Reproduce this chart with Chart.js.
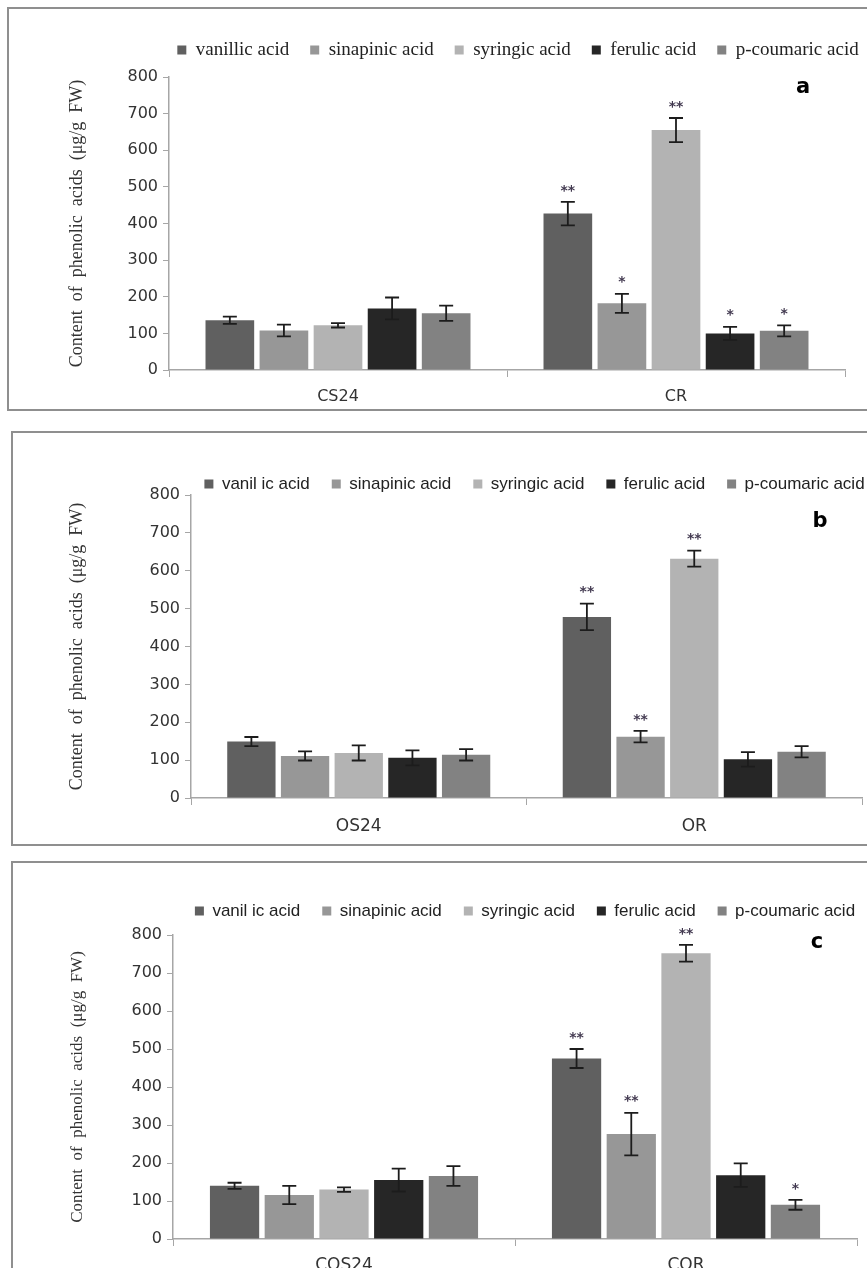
<!DOCTYPE html>
<html>
<head>
<meta charset="utf-8">
<script src="https://cdn.jsdelivr.net/npm/chart.js@4.4.0/dist/chart.umd.min.js"></script>
<style>
    html, body { margin: 0; padding: 0; background: #fff; overflow: hidden; width: 867px; height: 1268px; position: relative; }
    .frame { position: absolute; border: 2px solid #8f8f8f; box-sizing: border-box; }
    canvas { position: absolute; left: 0; }
</style>
</head>
<body>
<div class="frame" style="left:7px;top:7px;width:900px;height:404px"></div>
<div class="frame" style="left:11px;top:431px;width:900px;height:415px"></div>
<div class="frame" style="left:11px;top:861px;width:900px;height:440px"></div>
<canvas id="chartA" width="867" height="402" style="top:8px"></canvas>
<canvas id="chartB" width="867" height="413" style="top:432px"></canvas>
<canvas id="chartC" width="867" height="406" style="top:862px"></canvas>
<script>
// acids and their bar colours
const acidsA = ['vanillic acid', 'sinapinic acid', 'syringic acid', 'ferulic acid', 'p-coumaric acid'];
const acidsBC = ['vanil ic acid', 'sinapinic acid', 'syringic acid', 'ferulic acid', 'p-coumaric acid'];
const acidColors = ['#606060', '#979797', '#b3b3b3', '#262626', '#828282'];
const yTicks = [0, 100, 200, 300, 400, 500, 600, 700, 800];
const yTitle = 'Content  of  phenolic  acids  (\u03bcg/g  FW)';

// panel a
const groupsA = ['CS24', 'CR'];
const vanillicA = [136, 427], vanillicErrA = [10, 32], vanillicSigA = ['', '**'];
const sinapinicA = [108, 182], sinapinicErrA = [16, 26], sinapinicSigA = ['', '*'];
const syringicA = [122, 655], syringicErrA = [6, 33], syringicSigA = ['', '**'];
const ferulicA = [168, 100], ferulicErrA = [30, 18], ferulicSigA = ['', '*'];
const coumaricA = [155, 107], coumaricErrA = [21, 15], coumaricSigA = ['', '*'];

// panel b
const groupsB = ['OS24', 'OR'];
const vanillicB = [149, 478], vanillicErrB = [12, 35], vanillicSigB = ['', '**'];
const sinapinicB = [111, 162], sinapinicErrB = [12, 15], sinapinicSigB = ['', '**'];
const syringicB = [119, 632], syringicErrB = [20, 21], syringicSigB = ['', '**'];
const ferulicB = [106, 102], ferulicErrB = [20, 19], ferulicSigB = ['', ''];
const coumaricB = [114, 122], coumaricErrB = [15, 15], coumaricSigB = ['', ''];

// panel c
const groupsC = ['COS24', 'COR'];
const vanillicC = [140, 475], vanillicErrC = [8, 25], vanillicSigC = ['', '**'];
const sinapinicC = [116, 276], sinapinicErrC = [24, 56], sinapinicSigC = ['', '**'];
const syringicC = [130, 752], syringicErrC = [6, 22], syringicSigC = ['', '**'];
const ferulicC = [155, 168], ferulicErrC = [30, 31], ferulicSigC = ['', ''];
const coumaricC = [166, 90], coumaricErrC = [26, 13], coumaricSigC = ['', '*'];

// draws error bars, significance stars, the panel letter, and moves the legend
function panelPlugin(errors, stars, L) {
    return {
        id: 'panelExtras',
        afterLayout(chart) {
            const lg = chart.legend;
            if (!lg) return;
            const h = lg.height;
            const itemH = Math.max(L.legendFont.size, 8);
            lg.left = L.legendLeft;
            lg.right = L.legendRight;
            lg.width = L.legendRight - L.legendLeft;
            lg.top = L.legendY - L.legendPad - itemH / 2;
            lg.bottom = lg.top + h;
        },
        afterDatasetsDraw(chart) {
            const ctx = chart.ctx;
            const y = chart.scales.y;
            ctx.save();
            chart.data.datasets.forEach((ds, i) => {
                const meta = chart.getDatasetMeta(i);
                meta.data.forEach((bar, j) => {
                    const v = ds.data[j];
                    const e = errors[i][j];
                    const yt = y.getPixelForValue(v + e);
                    const yb = y.getPixelForValue(v - e);
                    ctx.strokeStyle = '#1c1c1c';
                    ctx.lineWidth = 1.8;
                    ctx.beginPath();
                    ctx.moveTo(bar.x, yt); ctx.lineTo(bar.x, yb);
                    ctx.moveTo(bar.x - 7, yt); ctx.lineTo(bar.x + 7, yt);
                    ctx.moveTo(bar.x - 7, yb); ctx.lineTo(bar.x + 7, yb);
                    ctx.stroke();
                    if (stars[i][j]) {
                        ctx.fillStyle = '#41384f';
                        ctx.font = 'bold 14px "DejaVu Sans"';
                        ctx.textAlign = 'center';
                        ctx.textBaseline = 'middle';
                        ctx.fillText(stars[i][j], bar.x, yt - 11);
                    }
                });
            });
            ctx.fillStyle = '#000';
            ctx.font = 'bold 21px "DejaVu Sans"';
            ctx.textAlign = 'center';
            ctx.textBaseline = 'middle';
            ctx.fillText(L.letter, L.letterX, L.letterY);
            ctx.restore();
        }
    };
}

function makeChart(id, groups, labels, values, errors, stars, L) {
    const datasets = values.map((vals, i) => ({
        label: labels[i],
        data: vals,
        backgroundColor: acidColors[i],
        borderWidth: 0,
        categoryPercentage: 0.8,
        barPercentage: 0.9
    }));
    return new Chart(document.getElementById(id), {
        type: 'bar',
        data: { labels: groups, datasets: datasets },
        plugins: [panelPlugin(errors, stars, L)],
        options: {
            responsive: false,
            animation: false,
            layout: { padding: { top: L.padTop, right: L.padRight, left: 0, bottom: 0 } },
            plugins: {
                legend: {
                    position: 'top',
                    labels: {
                        boxWidth: 9,
                        boxHeight: 9,
                        padding: L.legendPad,
                        color: '#222',
                        font: L.legendFont
                    }
                },
                tooltip: { enabled: false }
            },
            scales: {
                x: {
                    grid: { offset: true, drawOnChartArea: false, color: '#a6a6a6', tickLength: 7 },
                    border: { color: '#a6a6a6', width: 1.5 },
                    ticks: { color: '#333', font: L.catFont, padding: L.catPad },
                    afterFit: s => { s.height = L.xHeight; }
                },
                y: {
                    min: 0,
                    max: 800,
                    afterBuildTicks: s => { s.ticks = yTicks.map(v => ({ value: v })); },
                    grid: { drawOnChartArea: false, color: '#a6a6a6', tickLength: 6 },
                    border: { color: '#a6a6a6', width: 1.5 },
                    ticks: { color: '#333', font: L.tickFont, padding: 5 },
                    title: {
                        display: true,
                        text: yTitle,
                        color: '#333',
                        font: L.titleFont,
                        padding: { top: L.titlePad, bottom: 0 }
                    },
                    afterFit: s => { s.width = L.left; }
                }
            }
        }
    });
}

makeChart('chartA', groupsA, acidsA,
    [vanillicA, sinapinicA, syringicA, ferulicA, coumaricA],
    [vanillicErrA, sinapinicErrA, syringicErrA, ferulicErrA, coumaricErrA],
    [vanillicSigA, sinapinicSigA, syringicSigA, ferulicSigA, coumaricSigA],
    {
        left: 169, padRight: 22, padTop: 19, xHeight: 40,
        legendPad: 21, legendY: 42, legendLeft: 136, legendRight: 900,
        legendFont: { family: '"Liberation Serif", serif', size: 19 },
        tickFont: { family: '"DejaVu Sans"', size: 16 },
        catFont: { family: '"DejaVu Sans"', size: 16 },
        catPad: 10,
        titleFont: { family: '"Liberation Serif", serif', size: 18 },
        titlePad: 66,
        letter: 'a', letterX: 803, letterY: 80
    });

makeChart('chartB', groupsB, acidsBC,
    [vanillicB, sinapinicB, syringicB, ferulicB, coumaricB],
    [vanillicErrB, sinapinicErrB, syringicErrB, ferulicErrB, coumaricErrB],
    [vanillicSigB, sinapinicSigB, syringicSigB, ferulicSigB, coumaricSigB],
    {
        left: 191, padRight: 5, padTop: 14, xHeight: 47,
        legendPad: 22, legendY: 52, legendLeft: 169, legendRight: 900,
        legendFont: { family: '"Liberation Sans", sans-serif', size: 17 },
        tickFont: { family: '"DejaVu Sans"', size: 16 },
        catFont: { family: '"DejaVu Sans"', size: 17 },
        catPad: 11,
        titleFont: { family: '"Liberation Serif", serif', size: 18 },
        titlePad: 66,
        letter: 'b', letterX: 820, letterY: 90
    });

makeChart('chartC', groupsC, acidsBC,
    [vanillicC, sinapinicC, syringicC, ferulicC, coumaricC],
    [vanillicErrC, sinapinicErrC, syringicErrC, ferulicErrC, coumaricErrC],
    [vanillicSigC, sinapinicSigC, syringicSigC, ferulicSigC, coumaricSigC],
    {
        left: 173, padRight: 10, padTop: 24, xHeight: 29,
        legendPad: 22, legendY: 49, legendLeft: 150, legendRight: 900,
        legendFont: { family: '"Liberation Sans", sans-serif', size: 17 },
        tickFont: { family: '"DejaVu Sans"', size: 16 },
        catFont: { family: '"DejaVu Sans"', size: 17 },
        catPad: 9,
        titleFont: { family: '"Liberation Serif", serif', size: 17 },
        titlePad: 67,
        letter: 'c', letterX: 817, letterY: 81
    });
</script>
</body>
</html>
